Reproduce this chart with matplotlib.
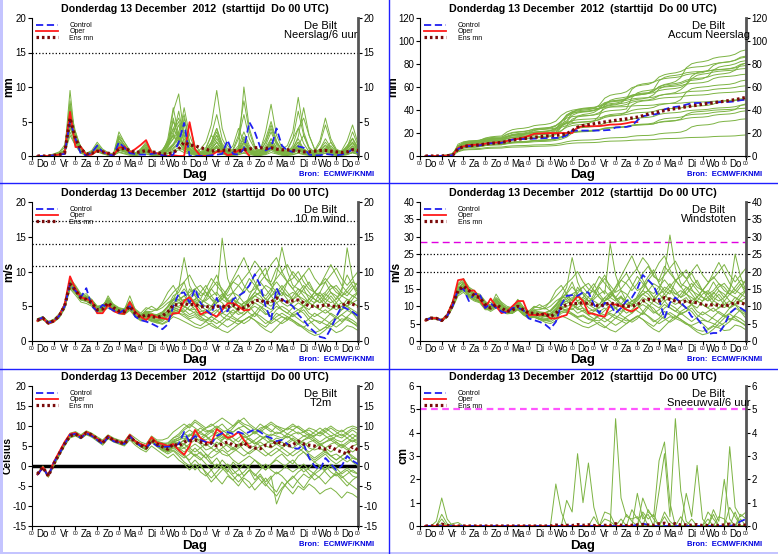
import numpy as np
import matplotlib
matplotlib.use('Agg')
import matplotlib.pyplot as plt
from matplotlib.lines import Line2D
from matplotlib.patches import Rectangle

plt.rcParams['font.family'] = ['Liberation Sans', 'DejaVu Sans']
plt.rcParams['axes.unicode_minus'] = False

# time axis: 6-hourly lead times (hours) from the Do 00 UTC run
lead = np.arange(6, 361, 6)
day_names = ['Do', 'Vr', 'Za', 'Zo', 'Ma', 'Di', 'Wo', 'Do', 'Vr', 'Za', 'Zo', 'Ma', 'Di', 'Wo', 'Do']
title_txt = 'Donderdag 13 December  2012  (starttijd  Do 00 UTC)'

# ---------------- precipitation per 6 h (mm) ----------------
rain_control = [0, 0, 0, 0.1, 0.2, 0.3, 5.0, 2.5, 0.3, 0.1, 0.5, 1.5, 0.6, 0.2, 0.1,
                2.0, 1.2, 0.4, 0.3, 0.2, 0.2, 0.3, 0.4, 0.1, 0.0, 0.2, 2.0, 4.8, 0.0, 0.0,
                0.0, 0.0, 0.1, 0.2, 0.3, 2.3, 0.3, 0.2, 1.0, 4.9, 3.5, 1.3, 0.8, 1.2, 4.0,
                1.5, 0.8, 0.6, 1.4, 1.2, 0.2, 0.1, 0.1, 0.3, 0.2, 0.1, 0.2, 0.4, 1.0, 0.5]
rain_oper = [0, 0, 0, 0.1, 0.2, 0.4, 6.4, 1.3, 1.3, 0.1, 0.2, 0.8, 0.7, 0.3, 0.1,
             1.2, 1.4, 0.5, 1.0, 1.6, 2.3, 0.5, 0.4, 0.1, 0.0, 0.1, 0.0, 0.0, 4.9, 1.0,
             0.0, 0.0, 0.1, 0.6, 0.7, 0.1, 0.3, 0.8, 1.0, 0.0]
rain_mean = [0, 0, 0, 0.1, 0.2, 0.4, 5.5, 2.5, 1.0, 0.3, 0.4, 0.7, 0.6, 0.4, 0.3,
             1.0, 1.1, 0.8, 0.5, 0.6, 0.8, 0.6, 0.5, 0.3, 0.3, 0.5, 1.0, 2.0, 1.6, 1.5,
             1.2, 1.0, 0.7, 0.8, 0.8, 0.9, 0.8, 0.7, 0.9, 1.0, 1.2, 1.2, 1.1, 1.2, 1.0,
             0.9, 0.9, 0.8, 0.7, 0.6, 0.6, 0.7, 0.8, 0.8, 0.7, 0.6, 0.5, 0.6, 0.9, 0.8]
rain_members = [
    [0, 0, 0, 0.2, 0.4, 0.8, 7.0, 3.5, 1.0, 0.3, 0.5, 1.5, 0.8, 0.3, 0.2,
     2.5, 1.5, 0.6, 0.3, 0.8, 1.2, 0.5, 0.3, 0.6, 1.5, 3.0, 6.5, 2.5, 1.0, 0.5,
     0.5, 1.0, 3.0, 6.0, 2.5, 1.0, 0.6, 1.5, 3.5, 1.5, 0.8, 0.5, 2.0, 4.5, 2.0,
     1.0, 0.6, 1.2, 2.5, 1.0, 0.5, 0.3, 0.8, 1.5, 0.8, 0.4, 0.6, 1.5, 2.5, 1.0],
    [0, 0, 0, 0.1, 0.2, 0.5, 4.5, 2.0, 0.6, 0.1, 0.3, 1.0, 0.5, 0.2, 0.1,
     1.0, 0.8, 0.3, 0.2, 0.4, 0.6, 0.3, 0.2, 0.3, 0.8, 1.5, 2.5, 1.2, 0.6, 0.3,
     0.2, 0.4, 0.8, 1.5, 0.6, 0.3, 0.2, 0.5, 1.2, 0.6, 0.3, 0.2, 0.8, 2.5, 1.2,
     0.5, 0.3, 0.6, 1.5, 0.8, 0.3, 0.2, 0.4, 0.9, 0.5, 0.3, 0.5, 1.2, 3.5, 1.5],
    [0, 0, 0.1, 0.3, 0.6, 1.2, 6.0, 2.8, 1.4, 0.4, 0.8, 2.0, 1.0, 0.5, 0.3,
     3.5, 2.0, 0.8, 0.4, 0.8, 1.5, 0.6, 0.4, 0.9, 2.0, 5.0, 3.0, 1.5, 0.8, 0.4,
     0.3, 0.6, 1.5, 3.0, 1.2, 0.5, 0.4, 1.0, 2.5, 1.0, 0.6, 0.8, 3.5, 7.5, 3.0,
     1.2, 0.5, 0.8, 1.5, 0.6, 0.3, 0.2, 0.4, 0.8, 0.4, 0.3, 0.4, 0.8, 1.5, 0.6],
    [0, 0, 0, 0.1, 0.2, 0.4, 3.5, 1.5, 0.5, 0.1, 0.2, 0.7, 0.4, 0.1, 0.1,
     0.6, 0.4, 0.2, 0.1, 0.2, 0.3, 0.1, 0.1, 0.2, 0.4, 0.8, 1.2, 0.8, 0.4, 0.2,
     0.1, 0.2, 0.4, 0.8, 0.4, 0.2, 0.1, 0.3, 0.8, 0.5, 0.2, 0.1, 0.4, 1.0, 0.5,
     0.3, 0.2, 0.5, 1.5, 3.0, 1.2, 0.4, 0.3, 0.8, 1.5, 0.6, 0.3, 0.5, 1.0, 0.4],
    [0, 0, 0, 0.1, 0.3, 0.6, 8.0, 2.2, 0.7, 0.2, 0.6, 1.3, 0.7, 0.3, 0.2,
     2.0, 1.2, 0.4, 0.3, 1.0, 2.0, 0.8, 0.3, 0.4, 0.8, 1.5, 3.5, 6.0, 2.0, 0.8,
     0.4, 0.8, 2.0, 4.0, 1.5, 0.6, 0.3, 0.6, 1.2, 0.6, 0.3, 0.2, 0.5, 1.5, 0.8,
     0.4, 0.3, 0.5, 1.0, 0.5, 0.2, 0.2, 0.4, 0.9, 0.5, 0.3, 0.3, 0.6, 1.0, 0.5],
    [0, 0, 0, 0.2, 0.5, 1.6, 5.0, 3.0, 1.0, 0.3, 0.4, 1.1, 0.6, 0.2, 0.1,
     1.5, 0.9, 0.4, 0.2, 0.6, 0.8, 0.4, 0.2, 0.5, 1.2, 5.5, 2.0, 0.8, 0.4, 0.3,
     0.3, 0.5, 1.0, 2.0, 1.0, 0.5, 0.8, 2.5, 6.0, 2.5, 1.0, 0.4, 0.6, 1.2, 0.6,
     0.3, 0.2, 0.4, 0.8, 0.4, 0.2, 0.2, 0.4, 0.8, 0.5, 0.3, 0.2, 0.3, 0.5, 0.3],
    [0, 0, 0, 0.1, 0.2, 0.5, 9.5, 2.0, 0.8, 0.2, 0.4, 1.0, 0.5, 0.2, 0.1,
     1.2, 0.7, 0.3, 0.2, 0.5, 1.0, 0.5, 0.2, 0.4, 2.5, 7.0, 3.0, 1.2, 0.5, 0.3,
     0.2, 0.4, 1.0, 2.0, 0.8, 0.4, 0.3, 0.8, 10.0, 4.0, 1.5, 0.6, 0.8, 1.5, 0.7,
     0.4, 0.3, 0.6, 1.2, 0.6, 0.3, 0.4, 1.0, 2.5, 1.2, 0.5, 0.3, 0.5, 0.9, 0.4],
    [0, 0, 0, 0.1, 0.2, 0.4, 4.0, 2.5, 0.6, 0.2, 0.3, 0.8, 0.4, 0.2, 0.1,
     0.8, 0.6, 0.3, 0.1, 0.3, 0.5, 0.2, 0.1, 0.3, 0.6, 1.0, 1.8, 3.5, 1.5, 0.6,
     0.2, 0.3, 0.6, 1.2, 0.5, 0.3, 0.2, 0.4, 0.9, 0.5, 0.2, 0.2, 0.5, 1.2, 0.6,
     0.3, 0.5, 1.5, 4.0, 1.8, 0.6, 0.3, 0.4, 0.6, 0.3, 0.2, 0.2, 0.3, 0.5, 0.3],
    [0, 0, 0, 0.1, 0.3, 0.7, 6.5, 1.8, 0.9, 0.2, 0.5, 1.6, 0.6, 0.3, 0.2,
     3.0, 2.0, 0.8, 0.4, 1.0, 1.8, 0.6, 0.3, 0.6, 1.8, 4.0, 5.5, 3.0, 1.5, 0.8,
     0.1, 0.2, 0.4, 0.8, 0.3, 0.1, 0.1, 0.2, 0.5, 0.3, 0.1, 0.1, 0.3, 0.8, 0.4,
     0.2, 0.1, 0.2, 0.5, 0.3, 0.1, 0.1, 0.2, 0.4, 0.2, 0.1, 0.1, 0.2, 0.5, 0.2],
    [0, 0, 0, 0.1, 0.2, 0.5, 5.0, 3.5, 1.2, 0.3, 0.6, 0.9, 0.5, 0.2, 0.1,
     1.8, 1.0, 0.4, 0.2, 0.7, 1.2, 0.5, 0.3, 0.8, 2.0, 3.0, 1.5, 5.5, 2.0, 0.7,
     0.4, 0.8, 1.8, 3.5, 1.5, 0.6, 0.5, 1.0, 2.0, 1.0, 0.5, 0.4, 1.2, 2.5, 1.2,
     0.6, 1.0, 2.5, 4.0, 5.5, 3.0, 1.0, 0.6, 1.2, 0.7, 0.4, 0.3, 0.5, 0.8, 0.4],
    [0, 0, 0, 0.1, 0.4, 0.9, 7.5, 2.0, 0.8, 0.2, 0.4, 1.4, 0.7, 0.3, 0.2,
     2.2, 1.3, 0.5, 0.3, 0.6, 1.0, 0.4, 0.2, 0.5, 1.3, 2.5, 3.5, 1.5, 0.8, 0.4,
     0.2, 0.3, 0.7, 1.4, 0.6, 0.3, 0.2, 0.5, 1.0, 0.5, 0.3, 0.2, 0.6, 1.5, 0.7,
     0.3, 0.2, 0.4, 0.9, 0.5, 0.3, 0.2, 0.4, 1.0, 2.0, 0.8, 0.4, 0.5, 0.9, 0.4],
    [0, 0, 0, 0.1, 0.2, 0.3, 3.0, 1.5, 0.4, 0.1, 0.2, 0.6, 0.3, 0.1, 0.1,
     0.5, 0.3, 0.1, 0.1, 0.2, 0.3, 0.1, 0.1, 0.2, 0.3, 0.6, 0.9, 0.5, 0.3, 0.1,
     0.1, 0.1, 0.3, 0.6, 0.3, 0.1, 0.1, 0.2, 0.4, 0.2, 0.1, 0.1, 0.2, 0.5, 0.3,
     0.1, 0.1, 0.2, 0.4, 0.2, 0.1, 0.1, 0.2, 0.4, 0.2, 0.1, 0.1, 0.2, 0.5, 0.3],
    [0, 0, 0, 0.1, 0.3, 0.6, 5.5, 2.2, 0.9, 0.2, 0.5, 1.2, 0.6, 0.3, 0.2,
     1.2, 0.8, 0.4, 0.2, 0.5, 0.9, 0.4, 0.2, 0.5, 1.5, 2.5, 4.5, 2.0, 0.8, 0.4,
     0.3, 0.6, 1.5, 3.0, 1.2, 0.5, 0.4, 0.8, 2.0, 0.9, 0.5, 0.3, 0.9, 2.0, 0.9,
     0.5, 0.8, 2.5, 6.5, 3.0, 1.0, 0.5, 0.4, 0.8, 0.5, 0.3, 0.4, 1.0, 1.8, 0.8],
    [0, 0, 0, 0.1, 0.2, 0.5, 6.0, 3.0, 1.0, 0.3, 0.5, 1.0, 0.5, 0.2, 0.1,
     2.8, 1.6, 0.6, 0.3, 0.6, 1.0, 0.4, 0.3, 0.8, 2.2, 4.0, 2.5, 7.0, 3.0, 1.0,
     0.5, 0.4, 0.8, 1.5, 0.8, 0.5, 1.0, 3.0, 8.0, 3.5, 1.2, 0.6, 1.0, 2.0, 1.0,
     0.6, 0.4, 0.8, 1.6, 0.8, 0.4, 0.6, 1.8, 4.5, 2.0, 0.8, 0.5, 1.0, 2.0, 0.9],
    [0, 0, 0, 0.1, 0.2, 0.4, 4.8, 2.6, 0.8, 0.2, 0.4, 1.1, 0.6, 0.2, 0.1,
     1.6, 1.0, 0.4, 0.2, 0.4, 0.7, 0.3, 0.2, 0.6, 1.8, 6.5, 9.0, 3.0, 1.2, 0.5,
     0.3, 0.5, 1.2, 2.5, 1.2, 0.6, 0.4, 0.9, 1.8, 0.9, 0.6, 1.0, 2.5, 5.0, 2.2,
     0.8, 0.5, 1.0, 2.0, 1.0, 0.5, 0.8, 2.2, 5.5, 2.5, 1.0, 0.6, 1.2, 2.0, 0.8],
    [0, 0, 0, 0.1, 0.3, 0.5, 6.8, 2.4, 0.8, 0.3, 0.6, 1.2, 0.6, 0.2, 0.1,
     1.4, 0.9, 0.3, 0.2, 0.6, 1.0, 0.4, 0.2, 0.4, 1.0, 1.8, 3.0, 1.4, 0.6, 0.3,
     1.0, 2.0, 4.5, 9.5, 4.0, 1.5, 0.6, 0.8, 1.5, 0.8, 0.4, 0.3, 0.8, 1.8, 0.9,
     0.5, 0.4, 1.0, 2.8, 7.0, 3.0, 1.0, 0.5, 0.8, 0.4, 0.3, 0.5, 1.2, 2.5, 1.0],
    [0, 0, 0, 0.1, 0.2, 0.4, 5.2, 2.0, 0.7, 0.2, 0.3, 0.9, 0.4, 0.2, 0.1,
     0.9, 0.6, 0.3, 0.1, 0.3, 0.6, 0.2, 0.1, 0.4, 0.9, 1.6, 2.8, 1.2, 0.5, 0.3,
     0.2, 0.3, 0.6, 1.2, 0.5, 0.3, 0.2, 0.5, 1.0, 0.5, 0.3, 0.2, 0.6, 1.5, 0.8,
     0.4, 0.3, 0.6, 1.2, 0.6, 0.3, 0.2, 0.5, 1.1, 0.6, 0.3, 0.3, 0.7, 1.4, 0.6],
    [0, 0, 0, 0.1, 0.3, 0.7, 7.2, 2.6, 1.0, 0.3, 0.6, 1.7, 0.8, 0.3, 0.2,
     2.6, 1.6, 0.6, 0.4, 0.9, 1.6, 0.6, 0.3, 0.6, 1.6, 3.5, 5.0, 2.0, 1.0, 0.5,
     0.4, 0.8, 2.0, 4.0, 1.8, 0.8, 0.5, 1.2, 2.8, 1.2, 0.6, 0.4, 1.5, 3.5, 1.6,
     0.8, 0.5, 1.0, 2.0, 1.0, 0.5, 0.4, 0.8, 1.6, 0.8, 0.5, 0.8, 2.2, 4.5, 1.8],
    [0, 0, 0, 0.1, 0.2, 0.5, 4.2, 1.8, 0.6, 0.2, 0.4, 1.0, 0.5, 0.2, 0.1,
     1.1, 0.7, 0.3, 0.2, 0.4, 0.7, 0.3, 0.2, 0.3, 0.7, 1.2, 2.0, 4.5, 1.8, 0.6,
     0.3, 0.5, 1.0, 2.0, 0.9, 0.4, 0.3, 0.6, 1.4, 0.7, 0.4, 0.3, 0.8, 1.8, 0.8,
     0.4, 0.3, 0.5, 1.0, 0.5, 0.3, 0.2, 0.4, 0.8, 0.4, 0.2, 0.3, 0.6, 1.2, 0.5],
    [0, 0, 0, 0.1, 0.3, 0.6, 6.2, 3.2, 1.1, 0.3, 0.5, 1.3, 0.7, 0.3, 0.2,
     2.0, 1.2, 0.5, 0.3, 0.7, 1.3, 0.5, 0.3, 0.7, 1.8, 3.0, 2.0, 1.0, 4.5, 1.5,
     0.6, 1.2, 3.0, 2.0, 1.0, 0.6, 1.5, 4.0, 2.0, 1.0, 0.6, 0.8, 2.0, 4.0, 1.8,
     1.0, 1.5, 3.5, 8.5, 3.5, 1.2, 0.6, 1.0, 2.0, 1.0, 0.5, 0.6, 1.4, 2.6, 1.2],
]

# ---------------- accumulated precipitation (mm) ----------------
accum_control = [0, 0, 0, 0.1, 0.3, 0.6, 6.0, 8.2, 8.6, 8.7, 9.2, 10.5, 11.0, 11.2, 11.4,
                 13.2, 14.2, 14.5, 14.8, 15.0, 15.1, 15.3, 15.6, 15.7, 15.7, 16.0, 17.8, 22.0, 22.1, 22.1,
                 22.1, 22.1, 22.2, 22.4, 22.7, 24.8, 25.1, 25.3, 26.2, 31.0, 34.5, 35.5, 36.0, 37.0, 40.5,
                 42.0, 42.7, 43.3, 44.7, 45.9, 46.1, 46.2, 46.3, 46.6, 46.8, 46.9, 47.1, 47.5, 48.5, 49.0]
accum_oper = [0, 0, 0, 0.1, 0.3, 0.6, 7.0, 8.3, 9.6, 9.7, 9.9, 10.7, 11.4, 11.7, 11.8,
              13.0, 14.4, 14.9, 15.9, 17.5, 19.3, 19.6, 19.8, 19.9, 19.9, 20.0, 20.0, 20.0, 24.9, 25.9,
              25.9, 25.9, 26.0, 26.6, 27.3, 27.4, 27.7, 28.5, 29.5, 29.5]
accum_mean = [0, 0, 0, 0.1, 0.3, 0.6, 6.2, 8.2, 9.0, 9.3, 9.7, 10.4, 11.0, 11.4, 11.7,
              12.7, 13.8, 14.6, 15.1, 15.6, 16.2, 16.8, 17.3, 17.6, 17.9, 18.4, 19.4, 22.0, 25.0, 26.5,
              27.2, 28.0, 28.8, 29.6, 30.3, 31.0, 31.7, 32.3, 33.0, 33.8, 35.0, 36.5, 37.5, 38.5, 39.5,
              40.5, 41.2, 42.0, 42.8, 43.5, 44.2, 45.0, 45.7, 46.3, 47.0, 47.6, 48.3, 49.0, 50.0, 51.0]

# ---------------- 10 m wind (m/s) ----------------
wind_control = [3.0, 3.4, 2.6, 2.9, 3.6, 5.0, 8.2, 7.2, 6.3, 7.6, 5.0, 4.3, 5.2, 4.8, 4.4,
                4.0, 4.5, 5.0, 3.5, 3.0, 2.8, 2.5, 2.1, 1.7, 2.4, 5.0, 6.8, 7.0, 5.5, 7.5,
                5.5, 4.5, 3.8, 6.2, 4.2, 4.3, 6.0, 6.5, 7.0, 8.0, 9.6, 8.0, 5.0, 3.0, 7.6,
                6.0, 5.5, 5.0, 3.8, 3.0, 2.0, 1.3, 0.6, 0.4, 1.8, 3.5, 5.0, 4.6, 4.2, 3.6]
wind_oper = [2.9, 3.3, 2.5, 2.8, 3.7, 5.2, 9.3, 7.5, 6.3, 6.0, 5.8, 4.0, 4.0, 5.2, 4.3,
             4.0, 3.9, 5.6, 4.2, 3.5, 3.0, 3.8, 3.4, 3.3, 3.1, 4.0, 4.0, 5.8, 6.3, 5.2,
             3.8, 4.2, 3.9, 3.5, 4.5, 5.4, 5.5, 5.0, 4.4, 4.5]
wind_mean = [3.0, 3.3, 2.6, 2.9, 3.6, 5.0, 8.2, 7.3, 6.2, 6.0, 5.5, 4.5, 4.6, 5.5, 4.8,
             4.3, 4.2, 5.0, 4.0, 3.4, 3.8, 3.5, 3.4, 3.6, 4.2, 5.2, 5.2, 5.4, 5.2, 5.3,
             4.9, 5.0, 4.8, 5.0, 5.0, 4.9, 5.2, 4.6, 4.8, 5.2, 5.8, 5.9, 5.5, 5.6, 6.2,
             5.9, 5.6, 5.8, 5.9, 5.5, 5.0, 5.0, 5.0, 5.2, 5.1, 4.9, 5.0, 5.6, 5.3, 5.0]
wind_members = [
    [3.1, 3.4, 2.7, 3.0, 3.8, 5.4, 9.0, 8.0, 6.8, 6.5, 5.8, 4.8, 5.0, 6.2, 5.0,
     4.6, 4.5, 6.5, 4.5, 3.8, 4.2, 4.0, 3.6, 4.0, 5.0, 6.5, 7.0, 8.5, 6.0, 5.5,
     5.0, 6.5, 8.0, 9.5, 7.0, 5.5, 6.0, 5.0, 4.5, 6.5, 8.0, 9.5, 10.5, 8.0, 7.0,
     6.5, 8.5, 10.0, 9.0, 7.5, 6.0, 5.5, 7.0, 8.5, 7.0, 6.0, 7.5, 9.5, 8.0, 6.5],
    [2.9, 3.2, 2.5, 2.8, 3.4, 4.8, 7.8, 7.0, 6.0, 5.8, 5.2, 4.2, 4.3, 5.0, 4.5,
     4.0, 3.9, 4.6, 3.6, 3.0, 3.2, 2.8, 2.6, 2.8, 3.5, 4.2, 4.5, 4.0, 3.5, 3.8,
     3.2, 3.0, 2.8, 3.5, 4.0, 3.6, 3.2, 2.8, 3.0, 3.5, 4.0, 3.6, 3.0, 2.5, 3.0,
     3.5, 3.2, 2.8, 2.2, 2.0, 2.5, 3.0, 2.8, 2.4, 2.0, 2.6, 3.2, 3.0, 2.6, 2.2],
    [3.0, 3.3, 2.6, 3.0, 3.7, 5.2, 8.5, 7.6, 6.5, 6.4, 6.0, 5.0, 4.8, 6.5, 5.2,
     4.5, 4.4, 5.5, 4.2, 3.6, 4.5, 5.0, 4.5, 5.5, 7.0, 8.0, 6.5, 5.5, 7.5, 6.5,
     5.5, 6.0, 7.5, 6.5, 14.8, 9.0, 7.0, 6.5, 5.5, 6.0, 7.0, 8.5, 7.5, 6.5, 7.0,
     8.0, 7.0, 6.0, 6.5, 7.5, 8.5, 7.0, 6.0, 5.0, 4.5, 5.5, 6.5, 6.0, 5.5, 6.0],
    [2.8, 3.1, 2.4, 2.7, 3.3, 4.6, 7.5, 6.6, 5.6, 5.4, 5.0, 4.0, 4.2, 4.8, 4.3,
     3.9, 3.8, 4.4, 3.5, 2.9, 3.2, 2.9, 2.8, 3.0, 3.6, 4.5, 4.8, 5.0, 4.4, 4.6,
     4.2, 4.5, 3.8, 3.5, 4.0, 4.5, 5.0, 4.2, 3.8, 4.5, 5.5, 5.0, 4.0, 3.5, 4.5,
     5.0, 4.5, 3.8, 4.0, 4.5, 3.5, 3.0, 2.5, 3.2, 4.0, 3.5, 2.8, 3.5, 4.2, 3.8],
    [3.2, 3.5, 2.8, 3.1, 3.9, 5.3, 8.6, 7.8, 6.6, 6.8, 5.9, 5.0, 5.2, 6.0, 5.3,
     4.8, 4.6, 5.8, 4.6, 4.0, 4.8, 4.5, 4.4, 4.8, 5.5, 6.0, 7.5, 12.0, 8.0, 6.5,
     5.5, 5.0, 4.5, 5.5, 6.5, 6.0, 7.0, 5.5, 5.0, 5.5, 6.5, 7.0, 6.0, 7.0, 9.5,
     13.5, 10.0, 8.0, 7.5, 7.0, 6.5, 6.0, 5.5, 6.0, 7.0, 6.5, 5.5, 5.0, 6.0, 7.0],
    [2.9, 3.3, 2.6, 2.9, 3.6, 5.0, 8.0, 7.2, 6.1, 5.9, 5.4, 4.4, 4.5, 5.3, 4.7,
     4.2, 4.1, 4.8, 3.9, 3.3, 3.5, 3.0, 2.8, 2.5, 3.0, 3.8, 4.0, 3.5, 3.0, 2.5,
     2.2, 2.8, 3.5, 3.0, 2.5, 2.0, 2.5, 3.2, 3.8, 4.5, 5.0, 4.5, 3.8, 4.2, 5.0,
     4.5, 4.0, 4.8, 5.5, 5.0, 4.0, 3.5, 4.0, 4.5, 3.8, 3.2, 3.8, 4.4, 4.0, 3.5],
    [3.0, 3.4, 2.7, 3.0, 3.7, 5.1, 8.4, 7.5, 6.4, 6.2, 5.7, 4.7, 4.8, 5.8, 5.0,
     4.4, 4.3, 5.2, 4.2, 3.5, 4.0, 3.8, 3.6, 3.8, 4.4, 5.5, 5.8, 6.5, 7.0, 7.5,
     6.5, 7.0, 6.0, 5.5, 6.5, 7.5, 8.5, 8.0, 7.0, 8.0, 9.5, 10.5, 9.0, 8.5, 10.5,
     9.5, 8.5, 9.0, 10.0, 8.5, 7.5, 7.0, 6.5, 7.0, 8.0, 7.5, 6.5, 7.0, 8.0, 7.0],
    [3.0, 3.2, 2.5, 2.8, 3.5, 4.9, 7.9, 7.0, 5.9, 5.7, 5.3, 4.3, 4.4, 5.2, 4.6,
     4.1, 4.0, 4.7, 3.8, 3.2, 3.6, 3.4, 3.3, 3.5, 4.0, 4.8, 4.5, 4.2, 5.0, 5.8,
     5.0, 4.5, 4.0, 4.5, 3.5, 3.0, 3.8, 4.5, 5.5, 5.0, 4.0, 3.2, 2.5, 3.0, 4.0,
     3.5, 3.0, 4.0, 4.5, 4.0, 3.0, 2.2, 1.5, 2.0, 2.8, 3.5, 4.5, 5.0, 4.0, 3.0],
    [3.1, 3.3, 2.6, 2.9, 3.6, 5.1, 8.3, 7.4, 6.3, 6.1, 5.6, 4.6, 4.7, 5.6, 4.9,
     4.4, 4.2, 5.1, 4.1, 3.5, 3.9, 3.6, 3.5, 3.7, 4.3, 5.3, 5.5, 6.0, 5.5, 6.0,
     5.5, 5.8, 6.5, 7.0, 6.0, 5.5, 6.2, 5.0, 5.5, 6.0, 6.5, 6.0, 5.5, 6.5, 7.5,
     7.0, 6.5, 7.0, 6.5, 6.0, 5.5, 6.5, 7.0, 6.0, 5.5, 6.0, 7.0, 13.4, 9.0, 7.0],
    [2.9, 3.3, 2.6, 2.8, 3.5, 4.9, 8.1, 7.2, 6.1, 5.9, 5.4, 4.5, 4.5, 5.4, 4.7,
     4.2, 4.1, 4.9, 3.9, 3.3, 3.7, 3.2, 3.0, 3.2, 3.8, 4.6, 4.2, 4.5, 3.8, 4.2,
     4.0, 3.5, 3.0, 2.5, 3.0, 3.8, 4.5, 3.8, 4.2, 5.0, 6.0, 5.5, 5.0, 4.5, 5.5,
     6.0, 5.5, 6.5, 7.5, 6.5, 5.5, 5.0, 4.5, 5.5, 6.5, 5.5, 4.5, 5.0, 5.5, 5.0],
    [3.0, 3.3, 2.6, 2.9, 3.7, 5.0, 8.2, 7.3, 6.2, 6.0, 5.5, 4.5, 4.6, 5.5, 4.8,
     4.3, 4.2, 5.0, 4.0, 3.4, 3.8, 3.5, 3.8, 4.2, 5.0, 6.0, 6.5, 5.5, 6.0, 6.8,
     6.0, 5.5, 5.0, 6.0, 6.8, 5.8, 5.0, 4.5, 5.0, 5.8, 6.5, 7.0, 8.0, 7.5, 6.5,
     5.5, 5.0, 5.5, 6.0, 5.0, 4.5, 5.5, 6.0, 6.8, 6.0, 5.0, 4.5, 5.5, 6.5, 6.0],
    [2.8, 3.2, 2.5, 2.8, 3.5, 4.8, 7.8, 7.0, 6.0, 5.8, 5.3, 4.3, 4.5, 5.2, 4.6,
     4.1, 4.0, 4.8, 3.8, 3.2, 3.4, 3.0, 2.9, 3.1, 3.6, 4.2, 4.0, 3.8, 3.2, 3.5,
     3.0, 2.8, 2.2, 1.8, 2.5, 3.2, 2.8, 2.4, 3.0, 3.5, 3.0, 2.5, 2.0, 2.8, 3.5,
     4.0, 3.5, 3.0, 2.5, 2.0, 1.5, 1.2, 1.5, 2.0, 1.8, 1.2, 1.5, 2.2, 2.0, 1.5],
    [3.2, 3.5, 2.8, 3.1, 3.9, 5.3, 8.8, 7.8, 6.6, 6.4, 5.9, 4.8, 5.0, 5.9, 5.2,
     4.7, 4.6, 5.6, 4.4, 3.8, 4.3, 4.2, 4.6, 5.2, 6.0, 7.0, 7.8, 8.5, 9.5, 8.0,
     7.0, 6.5, 7.5, 8.5, 7.5, 6.5, 7.0, 8.0, 9.0, 10.0, 11.5, 10.5, 9.0, 8.0, 9.0,
     10.0, 11.0, 9.5, 8.5, 9.5, 10.5, 9.0, 8.0, 8.5, 9.5, 10.5, 9.0, 8.0, 9.0, 10.0],
    [2.9, 3.2, 2.5, 2.8, 3.5, 4.9, 8.0, 7.1, 6.0, 5.8, 5.3, 4.4, 4.4, 5.3, 4.7,
     4.2, 4.0, 4.8, 3.8, 3.1, 3.3, 3.0, 2.6, 2.4, 2.8, 3.5, 3.2, 2.8, 2.4, 2.0,
     1.8, 2.2, 2.6, 2.0, 1.5, 1.2, 1.8, 2.4, 3.0, 3.5, 3.0, 2.2, 1.6, 1.2, 2.0,
     2.8, 3.5, 3.0, 2.4, 1.8, 1.2, 0.8, 1.0, 1.6, 2.4, 3.2, 3.8, 3.2, 2.6, 2.0],
    [3.0, 3.4, 2.7, 3.0, 3.7, 5.1, 8.4, 7.5, 6.4, 6.2, 5.7, 4.7, 4.8, 5.7, 5.0,
     4.5, 4.3, 5.3, 4.2, 3.6, 4.1, 3.8, 3.7, 4.0, 4.8, 5.8, 6.5, 7.5, 6.5, 5.5,
     4.5, 4.0, 4.5, 5.5, 6.0, 7.5, 9.0, 10.5, 12.0, 10.0, 8.5, 7.0, 6.0, 5.5, 6.5,
     7.5, 8.5, 7.5, 6.5, 5.5, 6.0, 7.0, 8.0, 9.5, 11.0, 9.5, 8.0, 7.0, 6.5, 7.0],
    [2.9, 3.3, 2.6, 2.9, 3.6, 5.0, 8.1, 7.2, 6.1, 5.9, 5.4, 4.4, 4.6, 5.4, 4.7,
     4.2, 4.1, 4.9, 3.9, 3.3, 3.6, 3.3, 3.1, 3.3, 3.9, 4.8, 5.0, 5.5, 6.5, 7.5,
     8.0, 7.0, 6.0, 5.0, 4.5, 5.0, 6.0, 5.5, 5.0, 4.0, 3.5, 4.5, 5.5, 6.5, 5.5,
     4.5, 4.0, 3.5, 4.0, 5.0, 6.0, 7.0, 6.5, 5.5, 5.0, 4.5, 5.0, 6.0, 5.5, 5.0],
    [3.1, 3.4, 2.7, 3.0, 3.8, 5.2, 8.5, 7.6, 6.5, 6.3, 5.8, 4.8, 4.9, 5.8, 5.1,
     4.6, 4.4, 5.4, 4.3, 3.7, 4.2, 3.9, 3.8, 4.1, 4.9, 5.9, 6.0, 5.0, 4.5, 5.0,
     6.0, 7.5, 9.0, 8.0, 7.0, 6.0, 5.0, 6.0, 7.5, 9.0, 8.0, 7.0, 6.5, 7.5, 8.5,
     7.5, 6.5, 6.0, 7.0, 8.0, 7.0, 6.0, 5.5, 6.5, 7.5, 8.0, 7.0, 6.5, 7.5, 8.5],
    [2.8, 3.2, 2.5, 2.8, 3.4, 4.8, 7.7, 6.9, 5.9, 5.7, 5.2, 4.3, 4.4, 5.1, 4.5,
     4.0, 3.9, 4.6, 3.7, 3.1, 3.4, 3.1, 2.9, 3.2, 3.8, 4.5, 4.2, 4.8, 5.5, 4.5,
     3.5, 3.0, 3.5, 4.2, 5.0, 4.5, 3.5, 3.0, 2.5, 3.0, 4.0, 5.0, 4.5, 3.5, 3.0,
     2.5, 3.0, 3.8, 3.2, 2.6, 3.2, 4.0, 3.5, 3.0, 2.5, 2.0, 2.6, 3.4, 3.0, 2.4],
    [3.0, 3.3, 2.6, 2.9, 3.6, 5.0, 8.2, 7.3, 6.2, 6.0, 5.5, 4.5, 4.6, 5.5, 4.8,
     4.3, 4.2, 5.0, 4.0, 3.4, 3.8, 3.5, 3.4, 3.6, 4.2, 5.5, 6.0, 6.5, 5.5, 6.0,
     7.0, 8.0, 6.5, 5.5, 6.0, 7.0, 8.5, 9.5, 8.0, 7.0, 7.5, 8.5, 9.5, 11.0, 12.0,
     10.0, 8.5, 7.5, 8.5, 9.5, 8.0, 7.0, 8.0, 9.0, 8.0, 7.0, 6.5, 7.5, 8.5, 8.0],
    [3.0, 3.3, 2.6, 2.9, 3.6, 5.0, 8.3, 7.4, 6.3, 6.1, 5.6, 4.6, 4.7, 5.6, 4.9,
     4.4, 4.3, 5.1, 4.1, 3.5, 3.9, 3.6, 3.5, 3.7, 4.3, 5.0, 5.5, 5.0, 4.5, 4.0,
     3.5, 4.0, 5.0, 6.0, 5.5, 4.5, 4.0, 4.5, 5.0, 6.0, 7.0, 6.5, 5.5, 5.0, 6.0,
     7.0, 6.0, 5.0, 4.5, 5.0, 5.5, 5.0, 4.5, 4.0, 4.5, 5.0, 5.5, 5.0, 4.5, 4.0],
]

# ---------------- wind gusts (m/s) ----------------
gust_control = [6.0, 6.6, 6.5, 5.9, 7.2, 10.0, 14.8, 15.0, 11.5, 13.5, 13.5, 9.5, 10.8, 9.5, 8.5,
                8.0, 9.5, 9.5, 9.0, 6.5, 6.0, 5.5, 4.8, 3.5, 5.5, 10.5, 13.0, 13.2, 13.0, 14.0,
                14.0, 10.5, 8.0, 11.0, 10.5, 8.0, 9.5, 11.5, 12.5, 15.0, 19.0, 17.5, 16.0, 12.0, 6.5,
                11.0, 12.5, 11.0, 9.5, 7.0, 6.5, 4.5, 2.0, 2.3, 2.3, 4.5, 8.0, 9.3, 9.5, 8.5]
gust_oper = [5.9, 6.5, 6.6, 5.8, 7.5, 11.0, 17.5, 17.8, 14.5, 14.5, 12.0, 9.5, 12.2, 10.0, 8.0,
             8.5, 10.0, 11.5, 11.5, 7.5, 7.5, 7.5, 8.0, 6.5, 6.5, 7.0, 7.5, 11.0, 13.0, 11.5,
             8.0, 7.8, 7.3, 7.0, 10.5, 10.5, 10.0, 9.0, 8.5, 9.5]
gust_mean = [6.0, 6.6, 6.5, 5.9, 7.2, 10.5, 14.5, 15.8, 14.5, 13.0, 12.5, 10.5, 9.5, 10.5, 9.5,
             8.5, 8.8, 10.0, 9.0, 8.0, 8.0, 7.5, 7.8, 7.0, 8.0, 9.5, 10.5, 10.8, 10.8, 11.0,
             10.8, 10.5, 10.0, 10.5, 11.0, 10.5, 10.2, 10.0, 10.0, 10.5, 11.5, 12.0, 11.8, 11.5, 12.5,
             12.0, 11.5, 11.2, 11.5, 11.2, 11.0, 10.5, 10.2, 10.5, 10.3, 10.0, 10.5, 11.0, 11.0, 10.5]
gust_members = [
    [6.1, 6.7, 6.6, 6.0, 7.5, 11.0, 16.0, 17.5, 15.5, 13.5, 13.0, 11.0, 10.0, 12.0, 10.0,
     9.0, 9.5, 11.0, 9.5, 8.5, 9.0, 9.0, 9.5, 8.5, 10.0, 12.0, 14.0, 17.0, 13.0, 11.5,
     10.5, 13.5, 16.5, 19.0, 15.0, 12.0, 12.5, 10.5, 10.0, 13.0, 16.0, 18.5, 20.5, 16.5, 14.5,
     13.5, 17.0, 19.5, 18.0, 15.0, 12.5, 11.5, 14.0, 17.0, 14.5, 12.5, 15.0, 19.0, 16.5, 13.5],
    [5.9, 6.5, 6.4, 5.8, 7.0, 10.0, 13.5, 14.5, 13.0, 12.0, 11.5, 9.5, 8.5, 9.5, 8.8,
     7.8, 8.0, 9.0, 8.0, 7.0, 7.0, 6.2, 5.8, 6.0, 7.0, 8.5, 9.0, 8.0, 7.0, 7.5,
     6.5, 6.0, 5.8, 7.0, 8.0, 7.2, 6.5, 5.8, 6.0, 7.0, 8.0, 7.2, 6.0, 5.0, 6.0,
     7.0, 6.5, 5.8, 4.8, 4.5, 5.2, 6.0, 5.6, 5.0, 4.2, 5.2, 6.5, 6.0, 5.4, 4.6],
    [6.0, 6.6, 6.5, 6.0, 7.3, 10.8, 15.5, 16.5, 15.0, 13.8, 13.5, 11.5, 10.0, 13.5, 11.0,
     9.0, 9.0, 11.5, 9.0, 8.0, 9.5, 10.5, 9.5, 11.5, 14.5, 16.0, 13.5, 11.5, 15.5, 13.5,
     11.5, 12.5, 15.5, 13.5, 28.0, 19.0, 14.5, 13.5, 11.5, 12.5, 14.5, 17.5, 15.5, 13.5, 14.5,
     16.5, 14.5, 12.5, 13.5, 15.5, 17.5, 14.5, 12.5, 10.5, 9.5, 11.5, 13.5, 12.5, 11.5, 12.5],
    [5.8, 6.4, 6.3, 5.7, 6.8, 9.5, 13.0, 14.0, 12.5, 11.5, 11.0, 9.0, 9.0, 9.8, 9.0,
     8.0, 8.0, 9.0, 7.5, 6.5, 7.0, 6.5, 6.2, 6.5, 7.5, 9.5, 10.0, 10.5, 9.0, 9.5,
     8.5, 9.0, 8.0, 7.5, 8.5, 9.5, 10.5, 9.0, 8.0, 9.5, 11.5, 10.5, 8.5, 7.5, 9.5,
     10.5, 9.5, 8.0, 8.5, 9.5, 7.5, 6.5, 5.5, 7.0, 8.5, 7.5, 6.0, 7.5, 9.0, 8.0],
    [6.2, 6.8, 6.8, 6.2, 7.8, 11.5, 16.5, 18.0, 15.5, 14.5, 13.0, 11.0, 11.0, 12.5, 11.2,
     10.0, 9.5, 12.0, 9.8, 8.5, 10.0, 9.5, 9.2, 10.0, 11.5, 12.5, 15.5, 24.0, 17.0, 13.5,
     11.5, 10.5, 9.5, 11.5, 13.5, 12.5, 14.5, 11.5, 10.5, 11.5, 13.5, 14.5, 12.5, 14.5, 19.5,
     30.5, 21.0, 16.5, 15.5, 14.5, 13.5, 12.5, 11.5, 12.5, 14.5, 13.5, 11.5, 10.5, 12.5, 14.5],
    [6.0, 6.6, 6.5, 5.9, 7.2, 10.5, 14.0, 15.5, 13.5, 12.5, 12.0, 10.0, 9.5, 11.0, 10.0,
     8.8, 8.8, 10.0, 8.4, 7.2, 7.5, 6.5, 6.0, 5.5, 6.5, 8.0, 8.5, 7.5, 6.5, 5.5,
     5.0, 6.0, 7.5, 6.5, 5.5, 4.5, 5.5, 7.0, 8.0, 9.5, 10.5, 9.5, 8.0, 9.0, 10.5,
     9.5, 8.5, 10.0, 11.5, 10.5, 8.5, 7.5, 8.5, 9.5, 8.0, 7.0, 8.0, 9.5, 8.5, 7.5],
    [6.1, 6.7, 6.6, 6.0, 7.4, 10.8, 15.0, 16.5, 14.5, 13.5, 12.8, 10.8, 10.0, 12.0, 10.5,
     9.2, 9.0, 11.0, 8.8, 7.5, 8.5, 8.0, 7.8, 8.0, 9.5, 11.5, 12.0, 13.5, 14.5, 15.5,
     13.5, 14.5, 12.5, 11.5, 13.5, 15.5, 17.5, 16.5, 14.5, 16.5, 19.5, 21.5, 18.5, 17.5, 21.5,
     19.5, 17.5, 18.5, 20.5, 17.5, 15.5, 14.5, 13.5, 14.5, 16.5, 15.5, 13.5, 14.5, 16.5, 14.5],
    [6.0, 6.5, 6.4, 5.8, 7.1, 10.2, 13.8, 15.0, 13.0, 12.0, 11.5, 9.8, 9.2, 10.5, 9.5,
     8.5, 8.5, 9.5, 8.2, 7.0, 7.8, 7.2, 7.0, 7.5, 8.5, 10.0, 9.5, 9.0, 10.5, 12.0,
     10.5, 9.5, 8.5, 9.5, 7.5, 6.5, 8.0, 9.5, 11.5, 10.5, 8.5, 7.0, 5.5, 6.5, 8.5,
     7.5, 6.5, 8.5, 9.5, 8.5, 6.5, 5.0, 3.5, 4.5, 6.0, 7.5, 9.5, 10.5, 8.5, 6.5],
    [6.1, 6.6, 6.5, 5.9, 7.3, 10.6, 14.8, 16.0, 14.5, 13.2, 12.6, 10.6, 9.8, 11.5, 10.2,
     9.0, 9.0, 10.5, 9.0, 7.8, 8.2, 7.8, 7.5, 7.8, 9.0, 11.0, 11.5, 12.5, 11.5, 12.5,
     11.5, 12.0, 13.5, 14.5, 12.5, 11.5, 13.0, 10.5, 11.5, 12.5, 13.5, 12.5, 11.5, 13.5, 15.5,
     14.5, 13.5, 14.5, 13.5, 12.5, 11.5, 13.5, 14.5, 12.5, 11.5, 12.5, 14.5, 25.0, 18.5, 14.5],
    [5.9, 6.6, 6.5, 5.8, 7.1, 10.3, 14.2, 15.3, 13.5, 12.6, 12.0, 10.0, 9.4, 11.0, 9.8,
     8.8, 8.6, 10.0, 8.5, 7.2, 7.8, 7.0, 6.5, 6.8, 8.0, 9.5, 8.8, 9.5, 8.0, 8.8,
     8.5, 7.5, 6.5, 5.5, 6.5, 8.0, 9.5, 8.0, 9.0, 10.5, 12.5, 11.5, 10.5, 9.5, 11.5,
     12.5, 11.5, 13.5, 15.5, 13.5, 11.5, 10.5, 9.5, 11.5, 13.5, 11.5, 9.5, 10.5, 11.5, 10.5],
    [6.0, 6.6, 6.5, 5.9, 7.4, 10.5, 14.5, 15.8, 14.5, 13.0, 12.5, 10.5, 9.5, 11.2, 10.0,
     8.8, 8.8, 10.2, 8.6, 7.5, 8.0, 7.5, 8.0, 8.8, 10.5, 12.5, 13.5, 11.5, 12.5, 14.0,
     12.5, 11.5, 10.5, 12.5, 14.0, 12.0, 10.5, 9.5, 10.5, 12.0, 13.5, 14.5, 16.5, 15.5, 13.5,
     11.5, 10.5, 11.5, 12.5, 10.5, 9.5, 11.5, 12.5, 14.0, 12.5, 10.5, 9.5, 11.5, 13.5, 12.5],
    [5.8, 6.4, 6.3, 5.7, 6.9, 9.8, 13.5, 14.8, 12.8, 12.0, 11.2, 9.4, 9.0, 10.0, 9.2,
     8.2, 8.0, 9.2, 7.8, 6.8, 7.0, 6.2, 6.0, 6.4, 7.5, 8.5, 8.2, 7.8, 6.8, 7.2,
     6.2, 5.8, 4.6, 3.8, 5.2, 6.6, 5.8, 5.0, 6.2, 7.2, 6.2, 5.2, 4.2, 5.8, 7.2,
     8.2, 7.2, 6.2, 5.2, 4.2, 3.2, 2.8, 3.2, 4.2, 3.8, 3.0, 3.2, 4.6, 4.2, 3.2],
    [6.2, 6.8, 6.7, 6.1, 7.6, 11.2, 16.2, 17.0, 15.0, 13.8, 13.2, 11.2, 10.2, 12.2, 10.6,
     9.6, 9.6, 11.8, 9.8, 8.6, 9.8, 9.6, 10.2, 11.2, 12.8, 14.5, 16.5, 18.0, 20.0, 17.0,
     15.0, 14.0, 16.0, 18.0, 16.0, 14.0, 15.0, 17.0, 19.0, 21.0, 24.0, 22.0, 19.0, 17.0, 19.0,
     21.0, 23.0, 20.0, 18.0, 20.0, 22.0, 19.0, 17.0, 18.0, 20.0, 22.0, 19.0, 17.0, 19.0, 21.0],
    [5.9, 6.5, 6.4, 5.8, 7.0, 10.1, 14.0, 15.2, 13.2, 12.2, 11.6, 9.6, 9.0, 10.4, 9.2,
     8.4, 8.2, 9.4, 7.8, 6.6, 6.8, 6.2, 5.4, 5.0, 5.8, 7.2, 6.6, 5.8, 5.0, 4.2,
     3.8, 4.6, 5.4, 4.2, 3.2, 2.6, 3.8, 5.0, 6.2, 7.2, 6.2, 4.6, 3.4, 2.6, 4.2,
     5.8, 7.2, 6.2, 5.0, 3.8, 2.6, 1.8, 2.2, 3.4, 5.0, 6.6, 7.8, 6.6, 5.4, 4.2],
    [6.0, 6.7, 6.6, 6.0, 7.4, 10.7, 15.2, 16.6, 14.6, 13.4, 12.9, 10.9, 10.0, 11.8, 10.4,
     9.3, 9.0, 11.0, 9.0, 7.8, 8.8, 8.2, 8.0, 8.6, 10.2, 12.2, 13.6, 15.6, 13.6, 11.6,
     9.6, 8.6, 9.6, 11.6, 12.6, 15.6, 18.6, 21.6, 24.5, 20.6, 17.6, 14.6, 12.6, 11.6, 13.6,
     15.6, 17.6, 15.6, 13.6, 11.6, 12.6, 14.6, 16.6, 19.6, 22.6, 19.6, 16.6, 14.6, 13.6, 14.6],
    [5.9, 6.6, 6.5, 5.9, 7.2, 10.4, 14.4, 15.6, 13.6, 12.6, 12.0, 10.2, 9.6, 11.2, 9.8,
     8.8, 8.6, 10.2, 8.6, 7.4, 8.0, 7.4, 7.0, 7.4, 8.6, 10.4, 10.8, 11.8, 13.8, 15.6,
     16.6, 14.6, 12.6, 10.6, 9.6, 10.6, 12.6, 11.6, 10.6, 8.6, 7.6, 9.6, 11.6, 13.6, 11.6,
     9.6, 8.6, 7.6, 8.6, 10.6, 12.6, 14.6, 13.6, 11.6, 10.6, 9.6, 10.6, 12.6, 11.6, 10.6],
    [6.1, 6.7, 6.6, 6.0, 7.5, 10.9, 15.3, 16.8, 14.8, 13.6, 13.0, 11.0, 10.2, 12.0, 10.6,
     9.4, 9.2, 11.2, 9.2, 7.9, 8.9, 8.4, 8.2, 8.8, 10.4, 12.4, 12.6, 10.6, 9.6, 10.6,
     12.6, 15.6, 18.6, 16.6, 14.6, 12.6, 10.6, 12.6, 15.6, 18.6, 16.6, 14.6, 13.6, 15.6, 17.6,
     15.6, 13.6, 12.6, 14.6, 16.6, 14.6, 12.6, 11.6, 13.6, 15.6, 16.6, 14.6, 13.6, 15.6, 17.6],
    [5.8, 6.5, 6.3, 5.7, 6.9, 9.9, 13.8, 14.8, 12.8, 11.8, 11.2, 9.4, 8.9, 10.0, 9.0,
     8.2, 8.0, 9.2, 7.6, 6.6, 7.2, 6.6, 6.2, 6.8, 8.0, 9.4, 8.8, 10.0, 11.4, 9.4,
     7.4, 6.4, 7.4, 8.8, 10.4, 9.4, 7.4, 6.4, 5.4, 6.4, 8.4, 10.4, 9.4, 7.4, 6.4,
     5.4, 6.4, 8.0, 6.8, 5.6, 6.8, 8.4, 7.4, 6.4, 5.4, 4.4, 5.6, 7.2, 6.4, 5.2],
    [6.0, 6.6, 6.5, 5.9, 7.3, 10.5, 14.6, 15.8, 14.2, 12.9, 12.4, 10.4, 9.6, 11.2, 9.9,
     8.9, 8.8, 10.2, 8.7, 7.4, 8.0, 7.6, 7.4, 7.8, 9.0, 11.5, 12.5, 13.5, 11.5, 12.5,
     14.5, 16.5, 13.5, 11.5, 12.5, 14.5, 17.5, 19.5, 16.5, 14.5, 15.5, 17.5, 19.5, 22.5, 24.5,
     20.5, 17.5, 15.5, 17.5, 19.5, 16.5, 14.5, 16.5, 18.5, 16.5, 14.5, 13.5, 15.5, 17.5, 16.5],
    [6.0, 6.6, 6.5, 5.9, 7.2, 10.5, 14.6, 15.9, 14.3, 13.0, 12.5, 10.5, 9.7, 11.3, 10.0,
     9.0, 8.9, 10.3, 8.8, 7.5, 8.2, 7.6, 7.4, 7.8, 9.0, 10.5, 11.5, 10.5, 9.5, 8.5,
     7.5, 8.5, 10.5, 12.5, 11.5, 9.5, 8.5, 9.5, 10.5, 12.5, 14.5, 13.5, 11.5, 10.5, 12.5,
     14.5, 12.5, 10.5, 9.5, 10.5, 11.5, 10.5, 9.5, 8.5, 9.5, 10.5, 11.5, 10.5, 9.5, 8.5],
]

# ---------------- 2 m temperature (Celsius) ----------------
t2m_control = [-2.2, -0.4, -2.6, 0.8, 3.0, 5.5, 7.8, 8.0, 7.0, 8.2, 7.5, 6.5, 5.5, 7.2, 6.2,
               5.8, 5.5, 7.5, 6.0, 5.0, 4.5, 6.0, 5.0, 4.8, 4.8, 5.0, 5.5, 8.5, 6.0, 7.5,
               6.5, 6.0, 5.5, 7.5, 8.2, 8.5, 8.0, 8.5, 8.0, 8.5, 9.2, 8.5, 7.5, 7.0, 6.2,
               6.5, 5.5, 4.5, 4.3, 5.5, 2.0, 0.0, -1.0, 2.0, 0.5, -1.0, 0.0, 2.5, 1.3, 0.5]
t2m_oper = [-2.1, -0.3, -2.4, 1.0, 3.5, 6.0, 8.0, 8.3, 7.2, 8.5, 7.8, 6.8, 6.0, 7.5, 6.5,
            6.0, 5.8, 7.8, 6.2, 5.5, 5.0, 7.2, 5.8, 5.5, 5.0, 5.5, 4.0, 2.8, 5.0, 9.0,
            7.0, 6.0, 5.8, 9.2, 8.2, 7.0, 7.5, 8.5, 6.5, 4.8]
t2m_mean = [-2.0, -0.3, -2.5, 0.5, 3.0, 5.5, 7.5, 8.0, 7.2, 8.3, 7.8, 6.8, 5.8, 7.3, 6.5,
            6.0, 5.5, 7.3, 6.0, 5.2, 4.5, 6.5, 5.5, 4.8, 4.2, 5.5, 5.0, 6.0, 6.3, 6.5,
            6.0, 5.5, 5.8, 5.0, 5.5, 6.0, 5.2, 5.0, 5.8, 4.8, 4.5, 4.3, 5.2, 5.0, 6.2,
            5.5, 5.0, 5.3, 6.2, 5.5, 5.2, 5.0, 4.5, 4.2, 4.8, 4.0, 3.5, 3.0, 4.8, 4.0]
t2m_members = [
    [-1.8, 0.0, -2.2, 1.0, 3.5, 6.0, 8.2, 8.6, 7.8, 8.8, 8.2, 7.3, 6.5, 7.8, 7.0,
     6.5, 6.2, 8.0, 7.0, 6.0, 5.5, 7.5, 6.5, 6.5, 7.0, 8.5, 9.5, 10.5, 9.5, 11.0,
     10.0, 9.0, 8.5, 9.5, 10.5, 9.0, 8.5, 9.5, 10.0, 9.0, 8.5, 9.5, 10.0, 9.0, 8.0,
     8.5, 9.5, 9.0, 8.0, 8.5, 9.0, 8.0, 7.5, 8.5, 9.5, 8.5, 7.5, 8.5, 9.5, 9.0],
    [-2.2, -0.6, -2.8, 0.0, 2.5, 5.0, 7.0, 7.5, 6.8, 7.8, 7.2, 6.2, 5.2, 6.8, 6.0,
     5.5, 5.0, 6.5, 5.2, 4.2, 3.5, 5.0, 4.0, 3.0, 2.0, 3.0, 1.5, 0.5, -1.0, 0.5,
     -1.5, -2.5, -1.0, -3.0, -4.5, -2.5, -3.5, -5.0, -3.0, -4.0, -6.0, -4.5, -3.0, -5.0, -6.5,
     -4.0, -5.5, -7.0, -5.0, -6.0, -4.5, -5.5, -7.0, -6.0, -5.5, -6.5, -8.0, -6.5, -7.0, -8.0],
    [-2.0, -0.2, -2.4, 0.6, 3.2, 5.8, 7.8, 8.2, 7.4, 8.5, 8.0, 7.0, 6.0, 7.5, 6.8,
     6.2, 5.8, 7.5, 6.3, 5.5, 5.0, 7.0, 6.0, 5.5, 5.0, 6.5, 7.0, 8.0, 7.5, 9.0,
     8.0, 7.5, 8.5, 7.5, 6.5, 8.0, 7.0, 6.0, 7.5, 6.5, 5.5, 6.5, 7.5, 6.0, 7.0,
     6.5, 7.5, 6.5, 5.5, 6.5, 7.0, 6.0, 5.0, 6.0, 6.5, 5.5, 4.5, 5.5, 6.5, 5.5],
    [-2.1, -0.4, -2.6, 0.4, 2.8, 5.3, 7.3, 7.8, 7.0, 8.1, 7.6, 6.6, 5.6, 7.1, 6.3,
     5.8, 5.3, 7.0, 5.7, 4.8, 4.0, 6.0, 5.0, 4.0, 3.5, 5.0, 4.0, 5.5, 4.0, 2.5,
     3.5, 2.0, 0.5, 2.0, 0.0, -1.5, 1.0, -0.5, -2.5, -1.0, -3.5, -2.0, -4.0, -2.5, -9.5,
     -6.0, -4.0, -5.5, -3.5, -2.0, -3.0, -1.5, 0.0, -1.0, 0.5, -0.5, -2.0, -1.0, -2.5, -3.0],
    [-1.9, -0.2, -2.3, 0.8, 3.3, 5.8, 7.7, 8.3, 7.5, 8.6, 8.0, 7.0, 6.1, 7.6, 6.8,
     6.3, 5.8, 7.6, 6.4, 5.6, 5.0, 7.2, 6.2, 5.8, 5.5, 7.0, 7.5, 9.0, 10.0, 11.5,
     10.5, 9.5, 10.0, 11.0, 12.0, 11.0, 10.0, 11.5, 10.5, 10.0, 9.0, 10.5, 9.5, 8.5, 10.0,
     9.5, 9.0, 10.0, 9.5, 8.5, 9.5, 9.0, 8.0, 9.0, 10.0, 9.0, 8.5, 9.5, 10.0, 9.5],
    [-2.0, -0.3, -2.5, 0.5, 3.0, 5.5, 7.5, 8.0, 7.2, 8.3, 7.8, 6.8, 5.8, 7.3, 6.5,
     6.0, 5.5, 7.3, 6.0, 5.0, 4.5, 6.5, 5.0, 4.0, 3.5, 4.0, 3.0, 2.0, 3.0, 4.5,
     3.0, 2.0, 3.5, 4.5, 3.0, 2.5, 3.5, 4.5, 5.5, 4.5, 5.0, 6.0, 5.0, 4.5, 5.5,
     6.0, 5.0, 4.5, 5.5, 6.0, 4.5, 4.0, 4.5, 3.5, 2.5, 3.0, 2.0, 1.0, 2.0, 1.5],
    [-2.0, -0.3, -2.4, 0.7, 3.1, 5.6, 7.6, 8.2, 7.3, 8.4, 7.9, 6.9, 5.9, 7.4, 6.6,
     6.1, 5.6, 7.4, 6.1, 5.3, 4.6, 6.6, 5.8, 5.2, 5.0, 6.0, 6.5, 7.5, 6.5, 8.0,
     7.0, 6.5, 7.5, 8.5, 7.5, 6.5, 7.5, 8.5, 7.0, 7.5, 8.5, 7.5, 7.0, 8.0, 7.5,
     7.0, 8.0, 7.5, 6.5, 7.5, 8.0, 7.0, 6.0, 7.0, 7.5, 6.5, 6.0, 7.0, 8.0, 7.0],
    [-2.2, -0.5, -2.7, 0.2, 2.7, 5.2, 7.2, 7.7, 6.9, 8.0, 7.5, 6.5, 5.5, 7.0, 6.2,
     5.7, 5.2, 7.0, 5.8, 4.8, 4.2, 6.2, 5.2, 4.5, 3.8, 5.2, 4.0, 3.0, 1.0, -1.0,
     0.5, -2.0, -4.0, -2.5, -1.0, 0.5, -1.0, -2.5, -1.5, 0.0, 1.5, 0.5, -1.0, 0.5, 2.0,
     3.0, 1.5, 0.5, 2.5, 3.5, 2.0, 1.0, 2.0, 3.0, 1.5, 0.5, 1.5, 2.5, 1.0, 0.0],
    [-1.9, -0.2, -2.4, 0.6, 3.2, 5.7, 7.7, 8.1, 7.3, 8.4, 7.9, 6.9, 5.9, 7.4, 6.6,
     6.1, 5.7, 7.5, 6.2, 5.4, 4.7, 6.8, 5.8, 5.0, 4.6, 5.8, 5.5, 6.5, 7.5, 8.5,
     9.5, 8.5, 9.0, 10.0, 9.0, 8.0, 8.5, 9.5, 8.5, 7.5, 8.5, 9.0, 8.0, 7.5, 8.5,
     8.0, 7.0, 8.0, 8.5, 7.5, 7.0, 7.5, 8.5, 7.5, 6.5, 7.5, 8.0, 7.0, 6.0, 7.0],
    [-2.1, -0.3, -2.6, 0.4, 2.9, 5.4, 7.4, 7.9, 7.1, 8.2, 7.7, 6.7, 5.7, 7.2, 6.4,
     5.9, 5.4, 7.2, 5.9, 5.1, 4.4, 6.4, 5.4, 4.6, 4.0, 5.4, 5.5, 4.5, 5.5, 6.5,
     5.5, 4.0, 4.5, 6.0, 5.0, 3.5, 4.5, 5.5, 4.0, 3.0, 4.0, 5.0, 3.5, 2.5, 3.5,
     4.5, 3.5, 2.5, 3.5, 4.5, 3.0, 2.0, 3.0, 4.0, 2.5, 1.5, 2.5, 3.5, 2.0, 1.5],
    [-2.0, -0.3, -2.5, 0.5, 3.0, 5.6, 7.6, 8.1, 7.3, 8.3, 7.8, 6.9, 5.9, 7.4, 6.6,
     6.0, 5.6, 7.4, 6.1, 5.2, 4.6, 6.6, 5.6, 5.0, 4.4, 6.0, 5.5, 6.5, 8.0, 7.0,
     6.5, 7.5, 6.0, 5.0, 6.5, 7.5, 6.0, 5.0, 6.5, 5.5, 6.5, 7.5, 6.5, 5.5, 6.0,
     5.0, 6.0, 7.0, 6.0, 5.0, 6.0, 6.5, 5.5, 4.5, 5.5, 6.0, 5.0, 4.0, 5.0, 5.5],
    [-2.1, -0.4, -2.6, 0.3, 2.8, 5.3, 7.3, 7.8, 7.0, 8.1, 7.6, 6.6, 5.6, 7.1, 6.3,
     5.8, 5.3, 7.1, 5.8, 5.0, 4.3, 6.3, 5.3, 4.4, 3.8, 4.8, 4.0, 4.5, 3.5, 2.5,
     1.5, 3.0, 1.0, -0.5, 1.5, 0.0, -2.0, -1.0, 0.5, -0.5, -2.5, -1.0, 0.5, -1.0, -2.0,
     -1.0, 0.5, 1.5, 0.0, -1.5, -0.5, 1.0, 0.0, -1.5, -3.0, -2.0, -3.5, -5.0, -3.5, -2.5],
    [-2.0, -0.2, -2.4, 0.6, 3.1, 5.6, 7.6, 8.1, 7.3, 8.4, 7.9, 6.9, 5.9, 7.4, 6.6,
     6.1, 5.6, 7.4, 6.2, 5.4, 4.8, 6.9, 6.0, 5.6, 5.8, 7.0, 8.0, 9.5, 10.5, 9.5,
     8.5, 9.5, 10.5, 9.5, 8.5, 9.0, 10.0, 11.0, 10.0, 9.0, 8.0, 9.0, 10.0, 11.0, 10.0,
     9.0, 8.0, 9.0, 10.0, 9.0, 8.0, 7.5, 8.5, 9.5, 8.5, 7.5, 7.0, 8.0, 9.0, 8.0],
    [-2.1, -0.4, -2.6, 0.3, 2.8, 5.3, 7.3, 7.8, 7.0, 8.1, 7.6, 6.6, 5.6, 7.1, 6.3,
     5.8, 5.3, 7.1, 5.8, 4.9, 4.2, 6.1, 5.0, 4.2, 3.5, 4.5, 3.5, 2.5, 1.5, 3.0,
     2.0, 0.5, -1.0, 0.5, -0.5, -2.0, -3.5, -2.0, -4.0, -5.5, -4.0, -2.5, -4.5, -6.0, -7.5,
     -5.5, -4.0, -2.5, -4.0, -5.5, -3.5, -2.0, -3.0, -4.5, -3.0, -1.5, -2.5, -4.0, -5.0, -6.0],
    [-2.0, -0.3, -2.5, 0.5, 3.0, 5.5, 7.5, 8.0, 7.2, 8.3, 7.8, 6.8, 5.8, 7.3, 6.5,
     6.0, 5.5, 7.3, 6.0, 5.2, 4.6, 6.6, 5.6, 5.0, 4.6, 5.5, 6.0, 5.5, 6.5, 7.0,
     6.0, 5.0, 6.0, 7.0, 6.0, 5.0, 4.0, 5.0, 6.0, 7.0, 6.0, 5.0, 5.5, 6.5, 5.5,
     4.5, 5.5, 6.5, 5.5, 4.5, 3.5, 4.5, 5.5, 4.5, 3.5, 4.5, 5.5, 4.5, 3.5, 4.5],
    [-1.9, -0.2, -2.4, 0.7, 3.2, 5.7, 7.7, 8.2, 7.4, 8.5, 7.9, 6.9, 6.0, 7.5, 6.7,
     6.2, 5.8, 7.6, 6.3, 5.5, 4.9, 6.9, 6.1, 5.7, 5.2, 6.2, 7.0, 8.0, 9.0, 8.0,
     7.0, 8.0, 9.0, 8.0, 7.0, 8.0, 9.5, 11.0, 12.0, 10.5, 9.5, 8.5, 9.5, 10.5, 9.5,
     8.5, 9.5, 10.5, 9.5, 8.5, 7.5, 8.5, 9.5, 8.5, 7.5, 8.0, 9.0, 8.0, 7.0, 8.0],
    [-2.1, -0.4, -2.6, 0.4, 2.9, 5.4, 7.4, 7.9, 7.1, 8.2, 7.7, 6.7, 5.7, 7.2, 6.4,
     5.9, 5.4, 7.2, 5.9, 5.1, 4.4, 6.4, 5.3, 4.5, 3.9, 5.0, 4.5, 3.5, 4.5, 5.5,
     4.5, 3.0, 2.0, 3.0, 4.0, 3.0, 1.5, 0.5, 1.5, 2.5, 1.5, 0.0, -1.0, 0.5, 1.5,
     0.5, -0.5, -1.5, -0.5, 0.5, -1.0, -2.0, -1.0, 0.0, -1.5, -2.5, -1.5, -0.5, -1.5, -2.0],
    [-2.0, -0.3, -2.5, 0.6, 3.1, 5.6, 7.6, 8.1, 7.3, 8.4, 7.8, 6.8, 5.9, 7.4, 6.6,
     6.0, 5.6, 7.4, 6.1, 5.3, 4.7, 6.7, 5.7, 5.2, 4.8, 6.0, 6.5, 7.0, 6.0, 7.5,
     8.5, 7.5, 6.5, 7.0, 8.0, 7.0, 6.0, 7.0, 8.0, 6.5, 5.5, 6.5, 7.5, 6.5, 5.5,
     6.5, 7.5, 6.5, 5.5, 6.5, 7.5, 6.5, 5.5, 6.0, 7.0, 6.0, 5.0, 6.0, 7.0, 6.0],
    [-2.2, -0.5, -2.7, 0.2, 2.7, 5.2, 7.2, 7.7, 6.9, 8.0, 7.5, 6.5, 5.5, 7.0, 6.2,
     5.7, 5.2, 7.0, 5.7, 4.8, 4.1, 6.0, 4.8, 3.8, 3.0, 3.8, 2.5, 1.0, 0.0, 1.5,
     0.0, -1.5, -3.0, -1.5, 0.0, -1.0, -2.5, -4.0, -2.5, -1.0, -2.0, -3.5, -5.0, -3.0, -1.5,
     -2.5, -4.0, -3.0, -1.5, -0.5, -2.0, -3.5, -2.5, -1.0, 0.0, -1.5, -3.0, -2.0, -1.0, -2.0],
    [-2.0, -0.3, -2.5, 0.5, 3.0, 5.5, 7.5, 8.0, 7.2, 8.3, 7.8, 6.8, 5.8, 7.3, 6.5,
     6.0, 5.5, 7.3, 6.0, 5.2, 4.5, 6.5, 5.5, 4.8, 4.2, 5.2, 4.5, 5.5, 4.5, 3.5,
     4.5, 5.5, 4.5, 3.5, 4.5, 5.5, 4.5, 3.5, 2.5, 3.5, 4.5, 3.5, 2.5, 3.5, 4.5,
     3.5, 2.5, 3.5, 4.5, 3.5, 2.5, 1.5, 2.5, 3.5, 2.5, 1.5, 2.5, 3.5, 2.5, 1.5],
]

# ---------------- snowfall per 6 h (cm), members given by their nonzero steps ----------------
snow_control = [0] * 39 + [0.05, 0.1, 0.05] + [0] * 15 + [0.05, 0.2, 0.3]
snow_oper = [0] * 40
snow_mean = [0, 0, 0.02, 0.08, 0.02, 0, 0, 0, 0, 0, 0, 0, 0, 0, 0,
             0, 0, 0, 0, 0, 0, 0, 0, 0, 0.04, 0.02, 0.03, 0.02, 0.06, 0.03,
             0.05, 0.02, 0.01, 0.03, 0.02, 0.1, 0.03, 0.02, 0.03, 0.05, 0.06, 0.04, 0.03, 0.1, 0.12,
             0.05, 0.1, 0.04, 0.05, 0.03, 0.06, 0.02, 0.02, 0.03, 0.02, 0.05, 0.08, 0.03, 0.03, 0.04]
snow_spikes = [
    {2: 0.2, 3: 1.2, 4: 0.3, 24: 1.8, 25: 0.6, 35: 4.6, 36: 1.2, 37: 0.4, 38: 0.3, 39: 0.4},
    {3: 0.5, 4: 0.1, 26: 1.1, 27: 0.6, 28: 3.1, 29: 1.0, 30: 2.7, 31: 0.8},
    {3: 0.3, 33: 0.6, 34: 0.5, 39: 1.4, 40: 0.3, 41: 0.5},
    {40: 1.2, 41: 0.6, 42: 0.4, 43: 2.8, 44: 3.6, 45: 1.0},
    {43: 1.5, 44: 3.1, 45: 0.4, 46: 4.6, 47: 1.5, 48: 0.2},
    {48: 1.4, 49: 0.4, 50: 2.6, 51: 0.3, 53: 0.7, 54: 0.2, 55: 2.0, 56: 0.3},
    {56: 3.4, 57: 0.8, 58: 0.4, 59: 0.6},
    {38: 0.7, 39: 0.3, 40: 0.5, 44: 0.6, 45: 0.2, 52: 0.3, 56: 0.8, 57: 0.4},
    {3: 0.1, 5: 0.1, 6: 0.15},
    {33: 0.3, 34: 0.2, 40: 0.6, 41: 0.3, 42: 0.5, 52: 0.6, 53: 0.3, 58: 0.5, 59: 0.3},
    {37: 0.5, 38: 0.2, 44: 0.4, 49: 0.3, 54: 0.4, 55: 0.3, 57: 0.6},
    {31: 0.4, 36: 0.3, 41: 0.7, 42: 0.3, 47: 0.4, 53: 0.5, 58: 0.3},
]
snow_members = []
for spikes in snow_spikes:
    row = np.zeros(len(lead))
    for k, v in spikes.items():
        row[k] = v
    snow_members.append(row)

GREEN = '#7cb342'
BLUE = '#2020f0'
RED = '#ff1a1a'
MEAN = '#7a0a0a'


def plume(ax, members, control, oper, mean, ylim, yticks, ylabel, label_x, label_size, name):
    for m in members:
        ax.plot(lead, m, color=GREEN, lw=0.7, zorder=2)
    l_op, = ax.plot(lead[:len(oper)], oper, color=RED, lw=1.3, zorder=3, label='Oper')
    l_ct, = ax.plot(lead, control, color=BLUE, lw=1.3, ls=(0, (4, 2)), zorder=4, label='Control')
    l_mn, = ax.plot(lead, mean, color=MEAN, lw=2.3, ls=(0, (0.8, 0.9)), zorder=5, label='Ens mn')

    ax.set_xlim(0, 360)
    ax.set_ylim(*ylim)
    ax.set_yticks(yticks)
    ax.set_xticks(np.arange(0, 361, 24))
    ax.set_xticklabels(['00'] * 16, fontsize=3.6)
    ax.set_xticks(np.arange(12, 360, 24), minor=True)
    ax.set_xticklabels(day_names, minor=True, fontsize=7)
    ax.tick_params(axis='x', which='major', length=3, pad=0.5)
    ax.tick_params(axis='x', which='minor', length=0, pad=2.5)
    ax.tick_params(axis='y', labelsize=7, length=3, pad=1, right=True, labelright=True)
    ax.spines['top'].set_visible(False)
    ax.spines['right'].set_color('#555555')
    ax.spines['right'].set_linewidth(2)

    ax.set_title(title_txt, fontsize=7.7, fontweight='bold', pad=4)
    ax.set_ylabel(ylabel, fontsize=label_size, fontweight='bold')
    ax.yaxis.set_label_coords(label_x, 0.5)
    ax.text(0.5, -0.14, 'Dag', transform=ax.transAxes, ha='center', va='center',
            fontsize=9.5, fontweight='bold')
    ax.text(1.05, -0.135, 'Bron:  ECMWF/KNMI', transform=ax.transAxes, ha='right',
            va='center', fontsize=5.5, fontweight='bold', color='#0000e0')
    ax.text(0.885, 0.945, 'De Bilt', transform=ax.transAxes, ha='center', va='center', fontsize=8)
    ax.text(0.885, 0.875, name, transform=ax.transAxes, ha='center', va='center', fontsize=8)
    ax.legend(handles=[l_ct, l_op, l_mn], loc='upper left', frameon=False, fontsize=5,
              handlelength=3.2, handletextpad=1.6, labelspacing=-0.1,
              borderaxespad=0.4, borderpad=0.2)


fig = plt.figure(figsize=(7.78, 5.54), dpi=100)
W, H = 778.0, 554.0
cols = [32, 420]
rows = [(18, 156), (202, 341), (386, 526)]


def make_ax(col, row):
    top, bottom = rows[row]
    return fig.add_axes([cols[col] / W, 1 - bottom / H, 326 / W, (bottom - top) / H])


ax = make_ax(0, 0)
plume(ax, rain_members, rain_control, rain_oper, rain_mean, (0, 20), range(0, 21, 5),
      'mm', -0.05, 8.5, 'Neerslag/6 uur')
ax.axhline(15, color='k', ls=':', lw=0.9, zorder=1)

ax = make_ax(1, 0)
plume(ax, np.cumsum(rain_members, axis=1), accum_control, accum_oper, accum_mean,
      (0, 120), range(0, 121, 20), 'mm', -0.063, 8.5, 'Accum Neerslag')

ax = make_ax(0, 1)
plume(ax, wind_members, wind_control, wind_oper, wind_mean, (0, 20), range(0, 21, 5),
      'm/s', -0.05, 8.5, '10 m wind')
for level in (10.8, 13.9, 17.2):
    ax.axhline(level, color='k', ls=':', lw=0.9, zorder=1)

ax = make_ax(1, 1)
plume(ax, gust_members, gust_control, gust_oper, gust_mean, (0, 40), range(0, 41, 5),
      'm/s', -0.055, 8.5, 'Windstoten')
for level in (20, 25):
    ax.axhline(level, color='k', ls=':', lw=0.9, zorder=1)
ax.axhline(28.5, color='#e000e0', ls=(0, (5, 3)), lw=1.0, zorder=1)

ax = make_ax(0, 2)
plume(ax, t2m_members, t2m_control, t2m_oper, t2m_mean, (-15, 20), range(-15, 21, 5),
      'Celsius', -0.058, 7.5, 'T2m')
ax.axhline(0, color='k', lw=2.5, zorder=1)

ax = make_ax(1, 2)
plume(ax, snow_members, snow_control, snow_oper, snow_mean, (0, 6), range(0, 7),
      'cm', -0.032, 8.5, 'Sneeuwval/6 uur')
ax.axhline(5, color='#ff55ff', ls=(0, (3, 2)), lw=1.6, zorder=1)

# panel frame lines
fig.add_artist(Line2D([389 / W, 389 / W], [0, 1], color='#2020ff', lw=1))
for y in (183, 369):
    fig.add_artist(Line2D([0, 1], [1 - y / H, 1 - y / H], color='#2020ff', lw=1))
fig.add_artist(Rectangle((0, 0), 3 / W, 1, color='#c4c4ff', lw=0))
fig.add_artist(Rectangle((0, 0), 1, 2.5 / H, color='#c4c4ff', lw=0))

fig.savefig('out.png', dpi=100)
